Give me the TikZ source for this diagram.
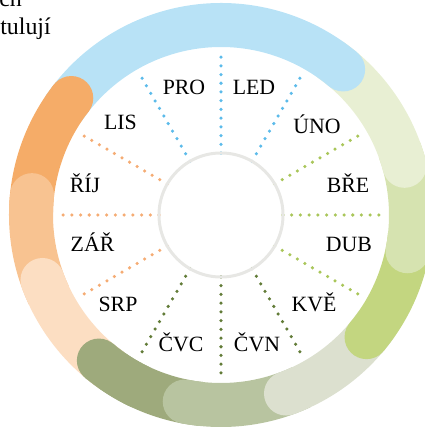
\documentclass[tikz,border=0pt]{standalone}
\usepackage{fontspec}
\setmainfont{Liberation Serif}
\definecolor{winter}{HTML}{B8E2F6}
\definecolor{springA}{HTML}{E8EFD3}
\definecolor{springB}{HTML}{D6E3B0}
\definecolor{springC}{HTML}{C3D680}
\definecolor{summerA}{HTML}{DCE0CF}
\definecolor{summerB}{HTML}{B8C4A0}
\definecolor{summerC}{HTML}{9EAA7C}
\definecolor{autumnA}{HTML}{FCDEC2}
\definecolor{autumnB}{HTML}{F8C391}
\definecolor{autumnC}{HTML}{F5AC68}
\definecolor{winterdot}{HTML}{5CBBEA}
\definecolor{springdot}{HTML}{A9C65A}
\definecolor{summerdot}{HTML}{627C38}
\definecolor{autumndot}{HTML}{F5AC74}
\definecolor{hub}{HTML}{E7E7E4}
\begin{document}
\begin{tikzpicture}[x=0.025cm, y=0.025cm,
  month/.style={font=\fontsize{15.5}{18}\selectfont, anchor=base, inner sep=0pt},
  dots/.style={line width=2.5pt, line cap=round, dash pattern=on 0pt off 6.2pt},
  band/.style={line width=1.1cm}]
\useasboundingbox (-221,-212) rectangle (203,215);
% text cut off at the top
\node[anchor=base west, inner sep=0pt, font=\fontsize{17}{20}\selectfont] (txt0) at (-222,208) {ch};
\node[anchor=base west, inner sep=0pt, font=\fontsize{17}{20}\selectfont] (txt1) at (-221,180) {tulují};
% outer ring
\draw[band, summerC] (-96:190) arc[start angle=-96, end angle=-130, radius=190];
\fill[summerC] (-130:190) circle (22);
\draw[band, summerB] (-65:190) arc[start angle=-65, end angle=-101, radius=190];
\fill[summerB] (-101:190) circle (22);
\draw[band, summerA] (-35:190) arc[start angle=-35, end angle=-70, radius=190];
\fill[summerA] (-70:190) circle (22);
\draw[band, springC] (-6:190) arc[start angle=-6, end angle=-40, radius=190];
\fill[springC] (-40:190) circle (22);
\draw[band, springB] (20:190) arc[start angle=20, end angle=-11, radius=190];
\fill[springB] (-11:190) circle (22);
\draw[band, springA] (55:190) arc[start angle=55, end angle=15, radius=190];
\fill[springA] (15:190) circle (22);
\draw[band, winter] (146:190) arc[start angle=146, end angle=50, radius=190];
\fill[winter] (50:190) circle (22);
\draw[band, autumnC] (179:190) arc[start angle=179, end angle=142, radius=190];
\fill[autumnC] (142:190) circle (22);
\draw[band, autumnB] (205:190) arc[start angle=205, end angle=174, radius=190];
\fill[autumnB] (174:190) circle (22);
\draw[band, autumnA] (235:190) arc[start angle=235, end angle=200, radius=190];
\fill[autumnA] (200:190) circle (22);
\draw[band, summerC] (-115:190) arc[start angle=-115, end angle=-130, radius=190];
\fill[summerC] (-130:190) circle (22);
% spokes
\coordinate (in0) at (90:62);
\coordinate (out0) at (90:166);
\coordinate (in1) at (60:62);
\coordinate (out1) at (60:166);
\coordinate (in2) at (30:62);
\coordinate (out2) at (30:166);
\coordinate (in3) at (0:62);
\coordinate (out3) at (0:166);
\coordinate (in4) at (-30:62);
\coordinate (out4) at (-30:166);
\coordinate (in5) at (-60:62);
\coordinate (out5) at (-60:166);
\coordinate (in6) at (-90:62);
\coordinate (out6) at (-90:166);
\coordinate (in7) at (-120:62);
\coordinate (out7) at (-120:166);
\coordinate (in8) at (-150:62);
\coordinate (out8) at (-150:166);
\coordinate (in9) at (180:62);
\coordinate (out9) at (180:166);
\coordinate (in10) at (150:62);
\coordinate (out10) at (150:166);
\coordinate (in11) at (120:62);
\coordinate (out11) at (120:166);
\draw[dots, winterdot] (in0) -- (out0);
\draw[dots, winterdot] (in1) -- (out1);
\draw[dots, springdot] (in2) -- (out2);
\draw[dots, springdot] (in3) -- (out3);
\draw[dots, springdot] (in4) -- (out4);
\draw[dots, summerdot] (in5) -- (out5);
\draw[dots, summerdot] (in6) -- (out6);
\draw[dots, summerdot] (in7) -- (out7);
\draw[dots, autumndot] (in8) -- (out8);
\draw[dots, autumndot] (in9) -- (out9);
\draw[dots, autumndot] (in10) -- (out10);
\draw[dots, winterdot] (in11) -- (out11);
% hub
\node[circle, draw=hub, line width=0.075cm, minimum size=3.1cm, inner sep=0pt] (hub) at (0,0) {};
% months
\node[month] (pro) at (-37,120) {PRO};
\node[month] (led) at (33,120) {LED};
\node[month] (uno) at (96,81) {ÚNO};
\node[month] (bre) at (127,22) {BŘE};
\node[month] (dub) at (128,-37) {DUB};
\node[month] (kve) at (93,-97) {KVĚ};
\node[month] (cvn) at (36,-136) {ČVN};
\node[month] (cvc) at (-40,-136) {ČVC};
\node[month] (srp) at (-103,-97) {SRP};
\node[month] (zar) at (-128.5,-36) {ZÁŘ};
\node[month] (rij) at (-136,22) {ŘÍJ};
\node[month] (lis) at (-100.5,85) {LIS};
\end{tikzpicture}
\end{document}
